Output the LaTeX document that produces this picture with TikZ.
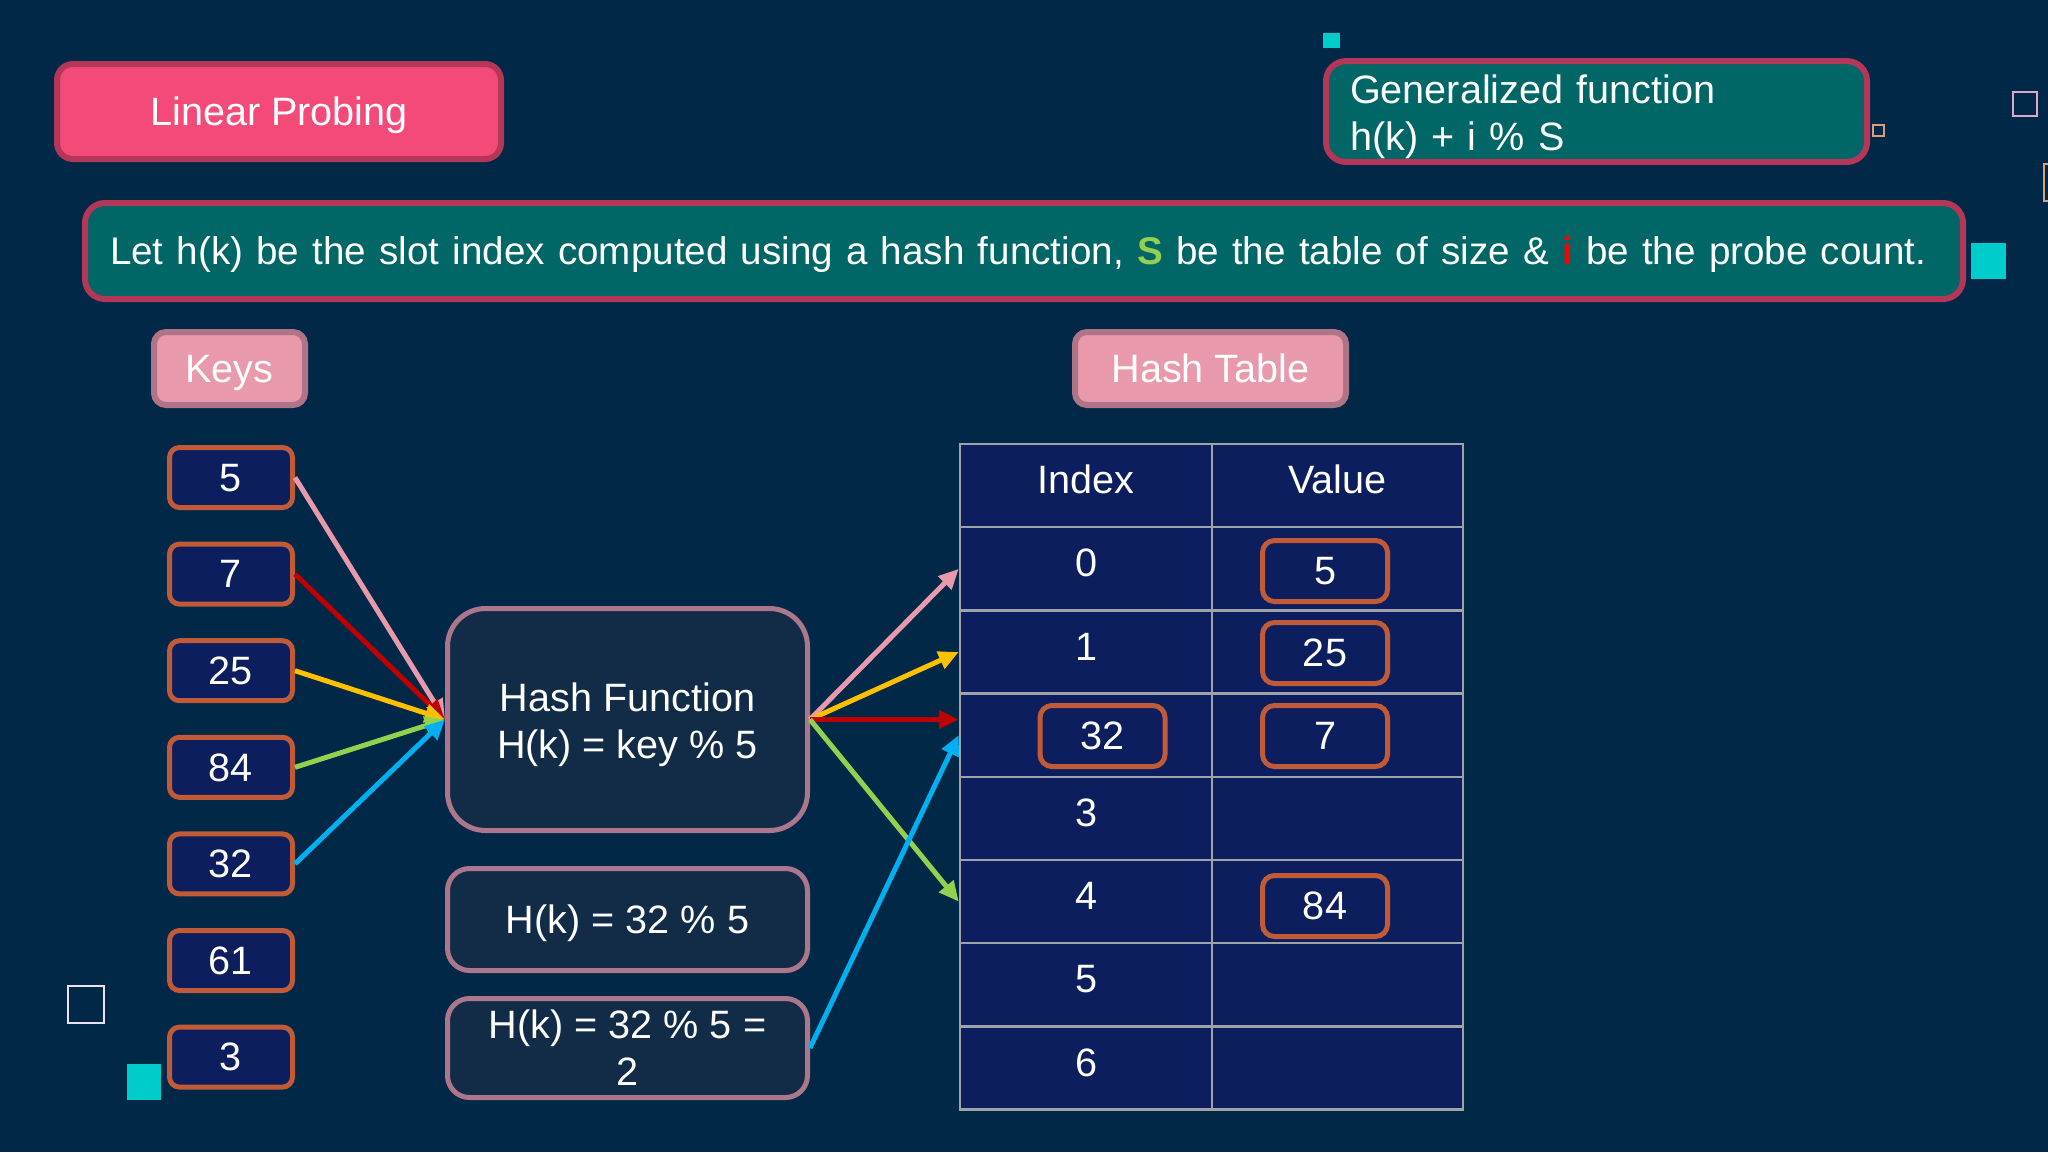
\documentclass[tikz,border=0pt]{standalone}
\usepackage{fontspec}
\setmainfont{Liberation Sans}
\usetikzlibrary{arrows.meta}
\definecolor{bg}{RGB}{1,40,70}
\definecolor{navy}{RGB}{12,30,94}
\definecolor{tealbox}{RGB}{0,102,102}
\definecolor{crim}{RGB}{180,55,90}
\definecolor{hot}{RGB}{243,74,120}
\definecolor{rose}{RGB}{232,153,172}
\definecolor{roseb}{RGB}{176,116,136}
\definecolor{mauve}{RGB}{172,118,140}
\definecolor{hfill}{RGB}{18,44,72}
\definecolor{rust}{RGB}{193,90,55}
\definecolor{gridc}{RGB}{160,162,170}
\definecolor{cyanq}{RGB}{0,204,204}
\definecolor{apink}{RGB}{232,153,172}
\definecolor{ared}{RGB}{192,0,0}
\definecolor{agold}{RGB}{255,192,0}
\definecolor{agreen}{RGB}{146,208,80}
\definecolor{ablue}{RGB}{0,176,240}
\definecolor{lilac}{RGB}{216,170,210}
\definecolor{tan}{RGB}{217,160,128}
\definecolor{paleline}{RGB}{235,225,240}
\begin{document}
\begin{tikzpicture}[x=1pt,y=-1pt,
  every node/.style={font=\fontsize{39.6}{47}\selectfont, text=white},
  one/.style={text height=35.8pt, text depth=8.4pt},
  title/.style={one, draw=crim, fill=hot, line width=6pt, rounded corners=16pt, minimum width=444pt, minimum height=95pt},
  note/.style={draw=crim, fill=tealbox, line width=6pt, rounded corners=20pt, align=left},
  tag/.style={one, draw=roseb, fill=rose, line width=6pt, rounded corners=12pt, minimum height=73pt},
  keybox/.style={one, draw=rust, fill=navy, line width=5pt, rounded corners=10pt, minimum width=123pt, minimum height=60pt},
  valbox/.style={one, draw=rust, fill=navy, line width=5pt, rounded corners=12pt, minimum width=125pt, minimum height=61pt},
  fbox/.style={draw=mauve, fill=hfill, line width=5pt, align=center, minimum width=360pt},
  cell/.style={draw=gridc, fill=navy, line width=2.5pt, minimum height=83.2pt, text height=28pt, text depth=12pt},
  icell/.style={cell, minimum width=252pt},
  vcell/.style={cell, minimum width=251pt},
  link/.style={line width=5pt, -{Triangle[length=20pt,width=18pt]}},
]
\fill[bg] (0,0) rectangle (2048,1152);
\useasboundingbox (0,0) rectangle (2048,1152);

% titles
\node[title] (lp) at (279,111.5) {Linear Probing};
\node[note, text width=493pt, inner xsep=24pt, minimum height=97pt] (gen) at (1596.5,111.5) {\rule{0pt}{39pt}Generalized function\\h(k) + i \% S};
\node[note, text width=1828pt, inner xsep=25pt, minimum height=96pt, text height=35.8pt, text depth=8.4pt] (def) at (1024,251)
  {\mbox{\fontsize{38.6}{46}\selectfont Let h(k) be the slot index computed using a hash function, {\bfseries\color{agreen}S} be the table of size \& {\bfseries\color{red}i} be the probe count.}};

\node[tag, minimum width=151pt] (keys) at (229.5,368.5) {Keys};
\node[tag, minimum width=271pt] (ht) at (1210.5,368.5) {Hash Table};

% keys
\node[keybox] (k5) at (231,477.5) {5};
\node[keybox] (k7) at (231,574.1) {7};
\node[keybox] (k25) at (231,670.7) {25};
\node[keybox] (k84) at (231,767.3) {84};
\node[keybox] (k32) at (231,863.9) {32};
\node[keybox] (k61) at (231,960.5) {61};
\node[keybox] (k3) at (231,1057.1) {3};

% hash function boxes
\node[fbox, rounded corners=38pt, minimum height=222pt] (hf) at (627.5,719.5) {\rule{0pt}{39pt}Hash Function\\H(k) = key \% 5};
\node[fbox, one, rounded corners=22pt, minimum height=102pt] (f1) at (627.5,919.5) {H(k) = 32 \% 5};
\node[fbox, rounded corners=22pt, minimum height=99pt] (f2) at (627.5,1048) {H(k) = 32 \% 5 =\\2};

% table
\node[icell] (hi) at (1086,485.6) {Index};
\node[vcell] (hv) at (1337.5,485.6) {Value};
\node[icell] (i0) at (1086,568.8) {0};
\node[vcell] (v0) at (1337.5,568.8) {};
\node[icell] (i1) at (1086,652.0) {1};
\node[vcell] (v1) at (1337.5,652.0) {};
\node[icell] (i2) at (1086,735.2) {};
\node[vcell] (v2) at (1337.5,735.2) {};
\node[icell] (i3) at (1086,818.4) {3};
\node[vcell] (v3) at (1337.5,818.4) {};
\node[icell] (i4) at (1086,901.6) {4};
\node[vcell] (v4) at (1337.5,901.6) {};
\node[icell] (i5) at (1086,984.8) {5};
\node[vcell] (v5) at (1337.5,984.8) {};
\node[icell] (i6) at (1086,1068.0) {6};
\node[vcell] (v6) at (1337.5,1068.0) {};

\node[valbox] (t5) at (1325,571) {5};
\node[valbox] (t25) at (1325,653) {25};
\node[valbox] (t7) at (1325,736) {7};
\node[valbox] (t84) at (1325,906) {84};
\node[valbox] (t32) at (1102.5,736) {32};

% arrows into hash function
\draw[link, apink] (k5.east) -- (hf.west);
\draw[link, ared] (k7.east) -- (hf.west);
\draw[link, agold] (k25.east) -- (hf.west);
\draw[link, agreen] (k84.east) -- (hf.west);
\draw[link, ablue] (k32.east) -- (hf.west);

% arrows into table
\draw[link, apink] (hf.east) -- (i0.west);
\draw[link, agold] (hf.east) -- (i1.west);
\draw[link, ared] (hf.east) -- (hf.east -| i2.west);
\draw[link, agreen] (hf.east) -- (i4.west);
\draw[link, ablue] (f2.east) -- (i2.west);

% decorative squares
\fill[cyanq] (1323,33) rectangle (1340,48);
\draw[tan, line width=1.8pt] (1873,125) rectangle (1884,136);
\draw[lilac, line width=2pt] (2013,92) rectangle (2037,116);
\draw[tan, line width=2pt] (2052,164) -- (2044,164) -- (2044,201) -- (2052,201);
\fill[cyanq] (1971,243) rectangle (2006,279);
\draw[paleline, line width=2.5pt] (68,986) rectangle (104,1023);
\fill[cyanq] (127,1064) rectangle (161,1100);
\end{tikzpicture}
\end{document}
